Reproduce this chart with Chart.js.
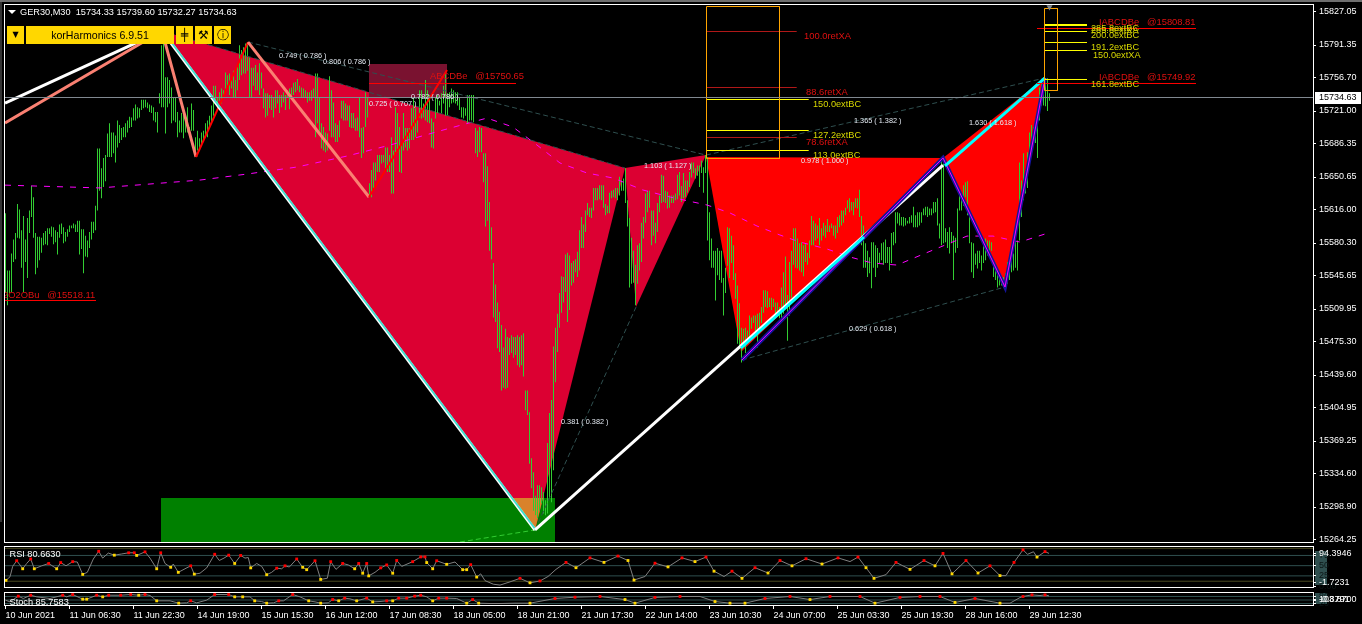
<!DOCTYPE html>
<html>
<head>
<meta charset="utf-8">
<title>GER30,M30</title>
<script src="https://cdn.jsdelivr.net/npm/chart.js@4/dist/chart.umd.min.js"></script>
<style>
html, body { margin: 0; padding: 0; width: 1362px; height: 624px; background: #000; overflow: hidden; font-family: "Liberation Sans", sans-serif; }
canvas { position: absolute; left: 0; }
#mainChart { top: 0; }
#rsiChart { top: 543px; }
#stochChart { top: 590px; }
.edge-top { position: absolute; left: 0; top: 0; width: 1362px; height: 2px; background: #6e6e6e; }
.edge-left { position: absolute; left: 0; top: 2px; width: 2px; height: 520px; background: #333; }
.title { position: absolute; left: 20px; top: 6px; color: #fff; font-size: 9.2px; line-height: 12px; white-space: pre; }
.arrow { position: absolute; left: 8px; top: 10px; width: 0; height: 0; border: 4px solid transparent; border-top: 4px solid #fff; }
.btn { position: absolute; top: 26px; height: 18px; line-height: 18px; background: #ffd700; color: #000; text-align: center; font-size: 10.6px; }
.btn.icon { font-family: "DejaVu Sans", sans-serif; font-size: 12px; }
</style>
</head>
<body>
<canvas id="mainChart" width="1362" height="548"></canvas>
<canvas id="rsiChart" width="1362" height="48"></canvas>
<canvas id="stochChart" width="1362" height="34"></canvas>
<div class="edge-top"></div>
<div class="edge-left"></div>
<div class="arrow"></div>
<div class="title" id="title"></div>
<div class="btn icon" style="left:7px;width:17px;font-size:8px">▼</div>
<div class="btn" style="left:26px;width:148px">korHarmonics 6.9.51</div>
<div class="btn icon" style="left:176px;width:17px">╪</div>
<div class="btn icon" style="left:195px;width:17px">⚒</div>
<div class="btn icon" style="left:214px;width:17px">ⓘ</div>
<script>
// header values
const symbolText = "GER30,M30  15734.33 15739.60 15732.27 15734.63";
const lastPrice = 15734.63;
const lastPriceLevel = 15735.4;

// axis labels
const timeLabels = ["10 Jun 2021", "11 Jun 06:30", "11 Jun 22:30", "14 Jun 19:00", "15 Jun 15:30", "16 Jun 12:00", "17 Jun 08:30", "18 Jun 05:00", "18 Jun 21:00", "21 Jun 17:30", "22 Jun 14:00", "23 Jun 10:30", "24 Jun 07:00", "25 Jun 03:30", "25 Jun 19:30", "28 Jun 16:00", "29 Jun 12:30"];
const priceTicks = [15827.05, 15791.35, 15756.70, 15721.00, 15686.35, 15650.65, 15616.00, 15580.30, 15545.65, 15509.95, 15475.30, 15439.60, 15404.95, 15369.25, 15334.60, 15298.90, 15264.25];
const rsiTickValues = [75, 50, 25, 0, 80, 10];
const rsiTickLabels = ["75", "50", "25", "0.00", "94.3946", "-1.7231"];
const stochTickValues = [80, 20, 52, 50];
const stochTickLabels = ["80", "20", "103.8700", "-0.8791"];

// price bars, one per 30 minutes
const barHighs = [
15612,15551,15551,15569,15584,15591,15622,15616,15594,15609,
15584,15607,15615,15641,15629,15591,15587,15587,15586,15591,
15593,15596,15596,15598,15597,15594,15592,15600,15601,15597,
15592,15595,15599,15599,15601,15600,15604,15604,15595,15595,
15588,15583,15592,15603,15603,15620,15681,15681,15660,15671,
15674,15697,15708,15698,15698,15695,15711,15706,15703,15704,
15708,15711,15715,15714,15724,15728,15725,15724,15733,15733,
15733,15730,15728,15727,15725,15720,15720,15740,15791,15798,
15757,15757,15754,15746,15736,15735,15720,15711,15719,15719,
15716,15725,15704,15729,15722,15693,15700,15692,15698,15700,
15708,15711,15716,15727,15748,15748,15736,15741,15745,15743,
15762,15759,15761,15754,15764,15754,15768,15791,15786,15789,
15793,15794,15778,15767,15767,15770,15762,15772,15762,15745,
15740,15740,15738,15738,15735,15743,15743,15738,15738,15741,
15738,15743,15745,15746,15751,15752,15755,15748,15746,15745,
15743,15741,15741,15743,15745,15761,15761,15735,15708,15704,
15698,15697,15758,15743,15730,15708,15706,15711,15732,15732,
15729,15727,15727,15719,15719,15713,15714,15736,15703,15704,
15741,15735,15644,15658,15666,15666,15674,15674,15674,15674,
15682,15682,15674,15693,15679,15725,15719,15704,15687,15719,
15703,15703,15703,15724,15735,15724,15711,15743,15743,15729,
15754,15743,15738,15713,15709,15736,15738,15732,15740,15748,
15761,15740,15741,15745,15743,15741,15741,15736,15725,15725,
15724,15738,15738,15738,15738,15703,15700,15704,15703,15676,
15676,15662,15624,15597,15559,15536,15517,15507,15493,15469,
15489,15480,15479,15482,15480,15480,15482,15480,15482,15484,
15423,15423,15400,15351,15336,15311,15322,15322,15320,15315,
15306,15367,15399,15413,15470,15490,15505,15527,15545,15544,
15568,15570,15567,15559,15561,15563,15571,15594,15608,15600,
15615,15623,15618,15618,15639,15639,15639,15642,15642,15642,
15622,15620,15634,15636,15637,15639,15639,15651,15647,15649,
15660,15626,15607,15586,15572,15557,15578,15580,15602,15608,
15633,15636,15636,15615,15615,15602,15623,15631,15653,15652,
15636,15635,15631,15631,15631,15633,15653,15656,15641,15655,
15647,15647,15656,15666,15666,15660,15663,15663,15668,15661,
15674,15672,15613,15585,15572,15572,15575,15572,15572,15543,
15554,15597,15596,15588,15578,15548,15535,15516,15490,15489,
15490,15487,15503,15501,15503,15503,15505,15506,15512,15530,
15530,15529,15522,15522,15521,15517,15517,15512,15533,15549,
15566,15525,15560,15572,15596,15596,15585,15580,15581,15578,
15580,15570,15583,15609,15604,15601,15599,15607,15596,15602,
15599,15606,15599,15601,15599,15599,15608,15610,15615,15615,
15618,15626,15628,15624,15624,15628,15628,15637,15609,15599,
15580,15572,15565,15581,15581,15578,15575,15570,15580,15581,
15584,15576,15576,15591,15592,15613,15613,15612,15608,15608,
15607,15604,15608,15610,15619,15610,15613,15613,15613,15617,
15619,15619,15617,15617,15624,15624,15628,15601,15671,15665,
15596,15592,15597,15592,15588,15586,15617,15633,15634,15642,
15645,15646,15612,15581,15580,15569,15572,15572,15567,15578,
15585,15583,15583,15581,15562,15559,15553,15546,15544,15544,
15548,15560,15553,15575,15569,15583,15583,15666,15647,15676,
15658,15677,15698,15706,15704,15713,15708,15746,15754,15756,
15756,15756,15740
];
const barLows = [
15527,15514,15527,15528,15560,15563,15586,15585,15554,15528,
15560,15543,15591,15608,15586,15547,15554,15562,15570,15578,
15579,15578,15590,15587,15579,15581,15568,15586,15590,15580,
15582,15587,15592,15596,15596,15592,15592,15568,15574,15548,
15566,15565,15575,15584,15591,15594,15615,15636,15628,15640,
15646,15672,15672,15672,15676,15666,15682,15687,15690,15693,
15693,15698,15703,15704,15711,15711,15713,15714,15722,15724,
15725,15724,15720,15719,15711,15709,15698,15729,15725,15725,
15697,15725,15729,15708,15711,15709,15693,15698,15698,15692,
15698,15698,15693,15700,15700,15674,15679,15679,15687,15688,
15693,15693,15703,15708,15716,15729,15722,15732,15729,15735,
15745,15748,15738,15745,15736,15736,15743,15754,15759,15761,
15761,15764,15736,15736,15748,15743,15743,15738,15745,15724,
15714,15716,15724,15722,15714,15724,15729,15719,15725,15730,
15722,15735,15723,15735,15738,15741,15743,15741,15736,15735,
15735,15730,15732,15732,15735,15693,15708,15700,15681,15679,
15677,15679,15700,15693,15693,15688,15688,15693,15713,15711,
15711,15711,15704,15703,15703,15700,15700,15693,15671,15676,
15704,15714,15631,15629,15639,15647,15656,15656,15665,15666,
15660,15656,15656,15633,15633,15677,15677,15656,15655,15679,
15682,15679,15681,15690,15690,15693,15698,15714,15713,15714,
15711,15709,15708,15682,15681,15713,15719,15727,15719,15729,
15716,15716,15725,15729,15730,15729,15727,15722,15714,15713,
15716,15708,15711,15711,15709,15676,15672,15677,15677,15645,
15598,15604,15572,15563,15501,15496,15468,15464,15423,15426,
15425,15426,15461,15463,15458,15461,15450,15448,15450,15438,
15402,15397,15345,15319,15295,15290,15287,15295,15303,15292,
15290,15292,15308,15304,15338,15432,15464,15490,15506,15517,
15528,15496,15509,15535,15538,15549,15544,15551,15575,15575,
15592,15610,15608,15607,15615,15626,15626,15627,15626,15618,
15610,15612,15612,15628,15629,15628,15626,15631,15636,15636,
15623,15598,15533,15537,15538,15514,15537,15551,15560,15585,
15602,15613,15618,15578,15588,15580,15592,15613,15623,15624,
15623,15617,15618,15623,15623,15626,15627,15631,15624,15628,
15629,15634,15640,15650,15655,15649,15652,15640,15655,15634,
15655,15583,15562,15554,15554,15519,15546,15541,15538,15503,
15527,15556,15543,15559,15541,15521,15473,15469,15453,15471,
15463,15473,15477,15489,15495,15480,15469,15490,15495,15506,
15512,15511,15512,15509,15512,15505,15503,15500,15498,15505,
15514,15476,15503,15522,15557,15554,15553,15551,15549,15545,
15560,15557,15564,15578,15578,15583,15585,15578,15583,15588,
15586,15592,15592,15596,15588,15585,15591,15597,15599,15602,
15610,15617,15613,15615,15610,15618,15617,15608,15578,15554,
15554,15544,15548,15532,15554,15544,15554,15559,15562,15557,
15559,15559,15551,15559,15578,15580,15601,15599,15599,15598,
15599,15601,15601,15602,15597,15597,15597,15599,15602,15610,
15610,15608,15610,15610,15612,15613,15599,15585,15578,15580,
15581,15575,15569,15580,15541,15570,15575,15615,15615,15620,
15629,15610,15580,15549,15543,15557,15553,15559,15551,15559,
15562,15567,15570,15572,15544,15541,15533,15535,15535,15533,
15532,15537,15541,15549,15551,15554,15551,15583,15608,15626,
15633,15639,15671,15677,15684,15687,15671,15711,15727,15727,
15726,15721,15732
];

// moving average read at its turning points
const maIndex = [-0.25, 47.25, 97.25, 120.75, 145.75, 170.75, 192.25, 218.75, 240.75, 253.75, 265.75, 277.25, 290.75, 303.75, 318.75, 332.25, 350.75, 362.25, 375.75, 387.25, 397.25, 410.75, 422.25, 433.25, 445.75, 463.75, 480.75, 493.75, 507.25, 519.75];
const maPrice = [15642, 15639, 15647.4, 15653.8, 15661.3, 15673, 15684.7, 15700.7, 15713.5, 15703.9, 15684.7, 15665.6, 15654.9, 15649.6, 15636.8, 15629.3, 15620.8, 15612.3, 15598.4, 15588.8, 15581.3, 15573.9, 15565.4, 15559, 15556.8, 15572.8, 15587.7, 15587.7, 15581.3, 15589.9];

// harmonic pattern pivots
const greenZoneIndex = [77.75, 274.75, 274.75, 77.75];
const greenZonePrice = [15308.5, 15308.5, 15261.6, 15261.6];
const bearXabIndex = [78.25, 264.75, 309.75];
const bearXabPrice = [15806.3, 15274.4, 15660.2];
const bearBcdIndex = [309.75, 315.25, 350.25];
const bearBcdPrice = [15660.2, 15512, 15674];
const overlapIndex = [253.25, 268.75, 264.75];
const overlapPrice = [15308.5, 15308.5, 15274.4];
const zoneBoxIndex = [181.75, 220.75, 220.75, 181.75];
const zoneBoxPrice = [15771, 15771, 15734.8, 15734.8];
const bullXabIndex = [350.25, 367.75, 468.75];
const bullXabPrice = [15672, 15464, 15671];
const bullBcdIndex = [468.75, 499.75, 519.75];
const bullBcdPrice = [15671, 15533.4, 15756.2];

// zigzag legs
const whiteInIndex = [-0.25, 78.25];
const whiteInPrice = [15729.5, 15806.3];
const salmonInIndex = [-0.25, 78.25, 95.25];
const salmonInPrice = [15708.2, 15806.3, 15672];
const redLegAIndex = [95.25, 121.25];
const redLegAPrice = [15672, 15794.5];
const salmonLegIndex = [121.25, 181.75];
const salmonLegPrice = [15794.5, 15629.3];
const redLegBIndex = [181.75, 220.75];
const redLegBPrice = [15629.3, 15764.7];
const xaIndex = [78.25, 264.75];
const xaPrice = [15806.3, 15274.4];
const whiteUpIndex = [264.75, 468.75];
const whiteUpPrice = [15274.4, 15663.4];
const cyanUpIndex = [367.75, 429.25, 429.25, 469.75, 519.75];
const cyanUpPrice = [15468.4, 15586.7, null, 15662.4, 15756.2];
const blueLegIndex = [368.25, 468.75, 499.75, 519.75];
const blueLegPrice = [15455.6, 15671, 15533.4, 15756.2];

// dashed ratio lines, from and to
const dashFromIndex = [78.25, 121.25, 264.75, 350.25, 368.25];
const dashFromPrice = [15806.3, 15794.5, 15274.4, 15674, 15455.6];
const dashToIndex = [309.75, 350.25, 315.25, 519.75, 499.75];
const dashToPrice = [15660.2, 15674, 15512, 15756.2, 15533.4];
const greenDashIndex = [227.25, 264.75];
const greenDashPrice = [15261.6, 15274.4];

// projection boxes
const projBoxIndex = [[350.5, 387], [519.5, 526]];
const projBoxPrice = [[15832.4, 15670.4], [15830.27, 15742.87]];
const markerIndex = [522];
const markerPrice = [15832];

// level lines: start, end, price
const retStart = [350.5, 350.5, 350.5];
const retEnd = [395.6, 395.6, 395.6];
const retPrice = [15805.75, 15746.06, 15692.77];
const extStart = [350.5, 350.5, 350.5, 519.5, 519.5, 519.5, 519.5, 519.5, 519.5];
const extEnd = [401.6, 401.6, 401.6, 540.75, 540.75, 540.75, 540.75, 540.75, 540.75];
const extPrice = [15733.27, 15700.22, 15678.9, 15813.2, 15812.15, 15805.75, 15794.03, 15785.5, 15754.6];
const signalStart = [181.75, -0.25, 515.75, 515.75];
const signalEnd = [255.25, 45.25, 595.25, 595.25];
const signalPrice = [15750.33, 15519.03, 15808.95, 15750.33];

// text on the chart
const redText = ["100.0retXA", "88.6retXA", "78.6retXA", "IABCDBe   @15808.81", "IABCDBe   @15749.92", "ABCDBe   @15750.65", "2O2OBu   @15518.11"];
const redTextIndex = [399.25, 400.25, 400.25, 546.75, 546.75, 212.25, -1.25];
const redTextPrice = [15801, 15741.2, 15688, 15815.8, 15757.2, 15758.3, 15524.9];
const yellowText = ["150.0extBC", "127.2extBC", "113.0extBC", "285.8extBC", "285.8extXA", "200.0extBC", "191.2extBC", "150.0extXA", "161.8extBC"];
const yellowTextIndex = [403.75, 403.75, 403.75, 542.75, 542.75, 542.75, 542.75, 543.75, 542.75];
const yellowTextPrice = [15728.4, 15695.4, 15674, 15809.5, 15807.3, 15801, 15789.2, 15780.7, 15749.8];
const ratioText = ["0.749 ( 0.786 )", "0.806 ( 0.786 )", "0.725 ( 0.707 )", "0.782 ( 0.786 )", "0.381 ( 0.382 )", "1.103 ( 1.127 )", "1.365 ( 1.382 )", "0.978 ( 1.000 )", "0.629 ( 0.618 )", "1.630 ( 1.618 )"];
const ratioTextIndex = [136.75, 158.75, 181.75, 202.75, 277.75, 319.25, 424.25, 397.75, 421.75, 481.75];
const ratioTextPrice = [15779.6, 15773.2, 15728.4, 15735.9, 15389.5, 15662.4, 15710.3, 15667.7, 15488.6, 15708.2];

// RSI pane: 1 peak, -1 trough, 0 no marker
const rsiName = "RSI 80.6630";
const rsiIndex = [0.25, 2.25, 3.6, 5.6, 7.25, 8.6, 10.6, 12.6, 14.4, 18.1, 21.6, 25.6, 27.6, 30.25, 33.6, 35.9, 38.6, 40.9, 43.9, 46.6, 48.6, 51.4, 54.4, 58.1, 61.6, 64.4, 65.6, 69.75, 72.25, 75.6, 77.6, 79.75, 82.6, 83.9, 86.4, 89.75, 92.6, 94.4, 97.25, 100.6, 104.6, 106.9, 109.25, 111.6, 114.6, 117.6, 119.75, 121.4, 122.6, 125.6, 128.1, 130.6, 133.1, 135.6, 138.1, 139.75, 141.9, 145.6, 148.6, 150.6, 154.75, 157.6, 160.9, 162.6, 165.25, 168.6, 171.4, 174.6, 176.6, 178.6, 180.6, 181.6, 184.75, 187.6, 190.6, 193.6, 195.6, 198.1, 203.6, 207.6, 209.75, 210.6, 213.6, 215.6, 220.6, 224.75, 228.6, 230.6, 232.6, 235.6, 237.6, 239.75, 243.9, 247.25,
  252.25, 257.25, 262.25, 267.25, 271.25, 275.25, 280.25, 285.25, 292.25, 299.25, 306.25, 311.25, 314.25, 319.75, 324.75, 331.25, 338.25, 344.75, 350.25, 354.25, 359.25, 363.25, 368.25, 374.75, 381.25, 387.25, 393.25, 400.25, 408.25, 416.25, 422.25, 426.25, 430.25, 434.25, 440.25, 445.25, 452.25, 459.25, 464.75, 468.75, 473.25, 480.25, 486.25, 492.25, 497.25, 500.25, 504.25, 508.75, 511, 514, 515.75, 519.75, 521.75];
const rsiValues = [14.1, 22.8, 48.2, 62, 51.8, 42.4, 55.4, 66.3, 42.4, 49.6, 55.4, 42.4, 57.6, 49.6, 59.8, 59, 28.6, 33.7, 66.3, 85.2, 68.5, 80.8, 75.7, 78.6, 81.5, 81.5, 75, 83.7, 68.5, 42.4, 81.5, 55.4, 46, 54, 33.7, 42.4, 49.6, 29.3, 31.5, 44.6, 77.9, 62.7, 68.5, 75.7, 55.4, 75, 68.5, 69.9, 44.6, 55.4, 48.2, 27.9, 33.7, 43.8, 42.4, 49.6, 46.7, 66.3, 46, 40.2, 62, 16.3, 19.2, 59.8, 40.9, 55.4, 51.8, 42.4, 55.4, 31.5, 55.4, 25, 33.7, 44.6, 51.8, 31.5, 62.7, 48.2, 59.8, 71.4, 71.4, 57.6, 42.4, 62, 53.3, 59, 40.2, 40.2, 52.5, 22.1, 30, 13.4, 4.7, 2.5,
  10.4, 19, 8, 12.6, 23.5, 41, 58, 45, 69, 58, 73.5, 62.6, 14.8, 23.5, 56, 47, 69, 60, 71, 36.5, 23.5, 36.5, 19, 45, 32, 62.6, 49.6, 67, 54, 69, 60, 71, 45, 19, 28, 58, 41, 62.6, 49.6, 80, 30, 62.6, 32, 49.6, 25.7, 25.7, 58, 88.7, 77.8, 84, 71, 84.4, 80];
const rsiMarks = [-1, 0, 0, 1, 0, -1, 0, 1, -1, 0, 1, -1, 1, 0, 1, 0, -1, 0, 0, 1, 0, 0, -1, 0, 1, 1, -1, 1, 0, -1, 1, 0, -1, 0, -1, 0, 1, -1, 0, 0, 1, 0, 0, 1, -1, 1, 0, 0, -1, 0, 0, -1, 0, 1, 0, 1, 0, 1, -1, -1, 1, -1, 0, 1, 0, 1, 0, -1, 1, -1, 1, -1, 0, 1, 1, -1, 1, 0, 1, 1, 1, -1, -1, 1, -1, 0, -1, -1, 1, -1, 0, 0, 0, 0,
  0, 1, -1, 1, 0, 0, 1, -1, 1, -1, 1, -1, -1, 0, 1, -1, 1, -1, 1, -1, 0, 1, -1, 1, -1, 1, -1, 1, -1, 1, 0, 1, -1, -1, 0, 1, -1, 1, -1, 1, -1, 1, -1, 1, -1, 0, 1, 1, 0, 0, -1, 1, 0];
const rsiLevels = [75, 50, 25];
const rsiOuterLevels = [92.4, 11.95];

// Stochastic pane
const stochName = "Stoch 85.7583";
const stochIndex = [0, 2.25, 6.4, 8.9, 12.6, 15.6, 22.25, 28.6, 30.6, 33.6, 38.6, 40.6, 45.6, 48.6, 51.6, 57.6, 62.6, 66.6, 69.75, 72.25, 75.6, 82.25, 86.6, 90.6, 92.6, 95.6, 100.6, 104.6, 111.6, 114.6, 118.6, 122.25, 124.6, 128, 130.6, 134, 136.6, 139, 143.6, 147.25, 151.6, 154.75, 157.6, 161.4, 163.6, 166.6, 169.6, 172.25, 175.6, 180.6, 183.6, 187.25, 190.6, 193.6, 196.6, 200.6, 204.6, 207.6, 210.6, 213.6, 216.6, 220.6, 225.6, 230.6, 233.6, 236.6, 242.25, 247.25,
  254.75, 262.25, 274.75, 284.75, 297.25, 309.75, 314.75, 324.75, 337.25, 347.25, 354.75, 362.25, 369.75, 379.75, 392.25, 402.25, 412.25, 427.25, 434.75, 447.25, 457.25, 467.25, 474.75, 484.75, 497.25, 502.25, 507.25, 508.75, 511.25, 513.25, 517.25, 519.75, 521.75];
const stochValues = [49, 34, 83, 63, 91, 77, 63, 91, 77, 97, 57, 57, 91, 77, 91, 91, 97, 91, 97, 89, 43, 43, 23, 26, 43, 26, 49, 97, 97, 77, 77, 77, 43, 37, 23, 26, 43, 43, 97, 77, 43, 34, 23, 26, 54, 43, 66, 60, 43, 66, 34, 37, 43, 43, 66, 66, 83, 91, 77, 43, 66, 66, 63, 23, 54, 23, 20, 20,
  23, 23, 63, 74, 80, 54, 23, 72, 80, 80, 37, 23, 23, 63, 80, 54, 80, 80, 23, 72, 80, 80, 29, 63, 23, 23, 71, 80, 88, 94, 88, 94, 85];
const stochMarks = [0, 0, 1, 0, 1, 0, 0, 1, 0, 1, -1, -1, 1, -1, 1, 1, 1, -1, 1, 0, -1, 0, -1, 0, 1, 0, 0, 1, 1, -1, -1, 0, -1, 0, -1, 0, 1, 0, 1, 0, -1, 0, -1, 0, 1, -1, 1, 0, -1, 1, -1, 0, 1, -1, 1, 1, 1, 1, 0, -1, 1, 1, 0, -1, 1, -1, 0, 0,
  0, -1, 1, 1, 1, -1, -1, 1, 1, 0, -1, -1, -1, 1, 1, -1, 1, 1, -1, 1, 1, 1, -1, 1, -1, 0, 0, 1, 0, 1, 0, 1, 0];
const stochLevels = [80, 50, 20];

const FONT = "Liberation Sans";
Chart.defaults.font.family = FONT;
Chart.defaults.font.size = 9;
Chart.defaults.color = "#fff";

const zip = (xs, ys) => xs.map((x, i) => ({ x: x, y: ys[i] }));

const lineSet = (points, color, width, extra) => Object.assign({
    type: "scatter",
    data: points,
    showLine: true,
    borderColor: color,
    borderWidth: width,
    pointRadius: 0,
    fill: false,
    tension: 0
}, extra || {});

const shapeSet = (points, color) => ({
    type: "scatter",
    data: points,
    showLine: true,
    borderWidth: 0,
    borderColor: color,
    backgroundColor: color,
    pointRadius: 0,
    fill: "shape"
});

const boxPoints = (xs, ys) => [
    { x: xs[0], y: ys[0] }, { x: xs[1], y: ys[0] }, { x: xs[1], y: ys[1] }, { x: xs[0], y: ys[1] }, { x: xs[0], y: ys[0] }
];

// frame round the pane and the dark strip behind indicator scale labels
const paneFrame = {
    id: "paneFrame",
    beforeDraw(chart, args, opts) {
        if (!opts.strip) return;
        const a = chart.chartArea;
        chart.ctx.fillStyle = "#2f4f4f";
        chart.ctx.fillRect(a.right + 2, a.top + opts.strip[0], 12, a.bottom - a.top - opts.strip[0] - opts.strip[1]);
    },
    afterDraw(chart) {
        const a = chart.chartArea;
        const ctx = chart.ctx;
        ctx.save();
        ctx.strokeStyle = "#fff";
        ctx.lineWidth = 1;
        ctx.strokeRect(a.left - 0.5, a.top - 0.5, a.right - a.left + 1, a.bottom - a.top + 1);
        ctx.restore();
    }
};

// writes text at a bar index and a value on the pane's scales
const noteLabels = {
    id: "noteLabels",
    afterDatasetsDraw(chart, args, opts) {
        const ctx = chart.ctx;
        const a = chart.chartArea;
        ctx.save();
        ctx.beginPath();
        ctx.rect(a.left, a.top, a.right - a.left, a.bottom - a.top);
        ctx.clip();
        ctx.textAlign = "left";
        ctx.textBaseline = "middle";
        (opts.groups || []).forEach(group => {
            ctx.font = group.font;
            ctx.fillStyle = group.color;
            group.text.forEach((t, i) => {
                ctx.fillText(t, chart.scales.x.getPixelForValue(group.index[i]), chart.scales.y.getPixelForValue(group.value[i]));
            });
        });
        ctx.restore();
    }
};

// white box with the last price on the scale
const lastPriceBox = {
    id: "lastPriceBox",
    afterDraw(chart) {
        const ctx = chart.ctx;
        const y = chart.scales.y.getPixelForValue(lastPriceLevel);
        ctx.save();
        ctx.fillStyle = "#fff";
        ctx.fillRect(chart.chartArea.right + 2, Math.round(y) - 6, 46, 12);
        ctx.fillStyle = "#000";
        ctx.font = "9px " + FONT;
        ctx.textBaseline = "middle";
        ctx.fillText(lastPrice.toFixed(2), chart.chartArea.right + 6, Math.round(y));
        ctx.restore();
    }
};

const noEdgePadding = (scale) => {
    scale.paddingTop = 0;
    scale.paddingBottom = 0;
    scale.paddingLeft = 0;
    scale.paddingRight = 0;
};

const timeAxis = (show) => ({
    type: "linear",
    min: -0.25,
    max: 653.75,
    offset: false,
    display: show,
    afterBuildTicks: scale => { scale.ticks = timeLabels.map((_, k) => ({ value: k * 32 })); },
    afterFit: scale => {
        if (show) scale.height = 19;
        noEdgePadding(scale);
    },
    border: { color: "#fff" },
    grid: { offset: false, drawOnChartArea: false, color: "#fff", tickLength: 4 },
    ticks: {
        autoSkip: false,
        maxRotation: 0,
        align: "start",
        padding: 1,
        color: "#fff",
        callback: (value) => timeLabels[Math.round(value / 32)]
    }
});

const valueAxis = (min, max, values, labels, colorOf) => ({
    type: "linear",
    position: "right",
    min: min,
    max: max,
    afterBuildTicks: scale => { scale.ticks = values.map(v => ({ value: v })); },
    afterFit: scale => {
        scale.width = 49;
        noEdgePadding(scale);
    },
    border: { color: "#fff" },
    grid: { drawOnChartArea: false, color: "#fff", tickLength: 3 },
    ticks: {
        autoSkip: false,
        padding: 3,
        crossAlign: "near",
        color: colorOf,
        callback: (value) => labels[values.indexOf(value)]
    }
});

const baseOptions = (scales, padding, plugins) => ({
    responsive: false,
    animation: false,
    events: [],
    layout: { padding: padding },
    scales: scales,
    plugins: Object.assign({ legend: { display: false }, tooltip: { enabled: false } }, plugins)
});

// painted bottom to top, so Chart.js order is the reverse of the list
const inOrder = (sets) => {
    sets.forEach((d, i) => { d.order = sets.length - i; });
    return sets;
};

const mainSets = [
    shapeSet(zip(greenZoneIndex, greenZonePrice), "#008000"),
    shapeSet(zip(bearXabIndex, bearXabPrice), "#dc0032"),
    shapeSet(zip(bearBcdIndex, bearBcdPrice), "#dc0032"),
    shapeSet(zip(overlapIndex, overlapPrice), "#d9822b"),
    shapeSet(zip(zoneBoxIndex, zoneBoxPrice), "#7a1230"),
    shapeSet(zip(bullXabIndex, bullXabPrice), "#ff0000"),
    shapeSet(zip(bullBcdIndex, bullBcdPrice), "#ff0000"),
    {
        type: "bar",
        data: barHighs.map((h, i) => ({ x: i, y: [barLows[i], h] })),
        backgroundColor: "#32cd32",
        barThickness: 1,
        inflateAmount: 0,
        borderWidth: 0
    },
    lineSet(zip(maIndex, maPrice), "#ff00ff", 1, { borderDash: [6, 7] })
];

dashFromIndex.forEach((x, i) => {
    mainSets.push(lineSet([{ x: x, y: dashFromPrice[i] }, { x: dashToIndex[i], y: dashToPrice[i] }], "#2f4f4f", 1, { borderDash: [5, 3] }));
});
mainSets.push(lineSet(zip(greenDashIndex, greenDashPrice), "#32cd32", 1, { borderDash: [5, 3] }));

mainSets.push(
    lineSet(zip(whiteInIndex, whiteInPrice), "#fff", 3),
    lineSet(zip(salmonInIndex, salmonInPrice), "#fa8072", 3),
    lineSet(zip(redLegAIndex, redLegAPrice), "#ff0000", 2),
    lineSet(zip(salmonLegIndex, salmonLegPrice), "#fa8072", 3),
    lineSet(zip(redLegBIndex, redLegBPrice), "#ff0000", 2),
    lineSet(zip(xaIndex, xaPrice), "#fff", 3),
    lineSet(zip(xaIndex.map(x => x + 0.5), xaPrice), "#40e0d0", 2),
    lineSet(zip(whiteUpIndex, whiteUpPrice), "#fff", 3),
    lineSet(zip(blueLegIndex, blueLegPrice), "#14149c", 4),
    lineSet(zip(blueLegIndex, blueLegPrice), "#ff00ff", 1),
    lineSet(zip(cyanUpIndex, cyanUpPrice), "#00ffff", 3)
);

retPrice.forEach((p, i) => {
    mainSets.push(lineSet([{ x: retStart[i], y: p }, { x: retEnd[i], y: p }], "#b01818", 1));
});
extPrice.forEach((p, i) => {
    mainSets.push(lineSet([{ x: extStart[i], y: p }, { x: extEnd[i], y: p }], "#ffff00", 1));
});
signalPrice.forEach((p, i) => {
    mainSets.push(lineSet([{ x: signalStart[i], y: p }, { x: signalEnd[i], y: p }], "#ff0000", 1));
});
projBoxIndex.forEach((xs, i) => {
    mainSets.push(lineSet(boxPoints(xs, projBoxPrice[i]), "#ffa500", 1));
});
mainSets.push({
    type: "scatter",
    data: zip(markerIndex, markerPrice),
    pointStyle: "triangle",
    rotation: 180,
    pointRadius: 3.5,
    backgroundColor: "#808890",
    borderWidth: 0
});
mainSets.push(lineSet([{ x: -0.25, y: lastPriceLevel }, { x: 653.75, y: lastPriceLevel }], "#808890", 1));

new Chart(document.getElementById("mainChart"), {
    type: "scatter",
    data: { datasets: inOrder(mainSets) },
    options: baseOptions(
        {
            x: timeAxis(false),
            y: valueAxis(15261.6, 15834, priceTicks, priceTicks.map(v => v.toFixed(2)), "#fff")
        },
        { left: 5, top: 5, bottom: 6 },
        {
            noteLabels: {
                groups: [
                    { text: redText, index: redTextIndex, value: redTextPrice, color: "#e01010", font: "9.4px " + FONT },
                    { text: yellowText, index: yellowTextIndex, value: yellowTextPrice, color: "#d8d800", font: "9.2px " + FONT },
                    { text: ratioText, index: ratioTextIndex, value: ratioTextPrice, color: "#e4eaf2", font: "7.3px " + FONT }
                ]
            }
        }
    ),
    plugins: [paneFrame, noteLabels, lastPriceBox]
});

// line with square markers on the peaks and troughs
const markedLine = (xs, ys, marks) => ({
    type: "scatter",
    data: zip(xs, ys),
    showLine: true,
    borderColor: "#808080",
    borderWidth: 1,
    pointStyle: "rect",
    pointRadius: ctx => marks[ctx.dataIndex] ? 2 : 0,
    backgroundColor: ctx => marks[ctx.dataIndex] > 0 ? "#ff0000" : "#ffd700",
    pointBorderWidth: 0
});

const levelSet = (v, color) => lineSet([{ x: -0.25, y: v }, { x: 653.75, y: v }], color, 1);

new Chart(document.getElementById("rsiChart"), {
    type: "scatter",
    data: {
        datasets: inOrder(
            rsiOuterLevels.map(v => levelSet(v, "#4a4a20"))
                .concat(rsiLevels.map(v => levelSet(v, "#2f4f4f")))
                .concat([markedLine(rsiIndex, rsiValues, rsiMarks)])
        )
    },
    options: baseOptions(
        {
            x: timeAxis(false),
            y: valueAxis(-2.17, 95.65, rsiTickValues, rsiTickLabels, ctx => ctx.index <= 3 ? "#0c1616" : "#fff")
        },
        { left: 5, top: 2, bottom: 1 },
        {
            paneFrame: { strip: [4, 2] },
            noteLabels: {
                groups: [{ text: [rsiName], index: [2], value: [78], color: "#fff", font: "9.2px " + FONT }]
            }
        }
    ),
    plugins: [paneFrame, noteLabels]
});

new Chart(document.getElementById("stochChart"), {
    type: "scatter",
    data: {
        datasets: inOrder(
            stochLevels.map(v => levelSet(v, "#2f4f4f"))
                .concat([markedLine(stochIndex, stochValues, stochMarks)])
        )
    },
    options: baseOptions(
        {
            x: timeAxis(true),
            y: valueAxis(7.3, 110, stochTickValues, stochTickLabels, ctx => ctx.index < 2 ? "#0c1616" : "#fff")
        },
        { left: 5, top: 3 },
        {
            paneFrame: { strip: [0, 1] },
            noteLabels: {
                groups: [{ text: [stochName], index: [2], value: [30], color: "#fff", font: "9.2px " + FONT }]
            }
        }
    ),
    plugins: [paneFrame, noteLabels]
});

document.getElementById("title").textContent = symbolText;
</script>
</body>
</html>
